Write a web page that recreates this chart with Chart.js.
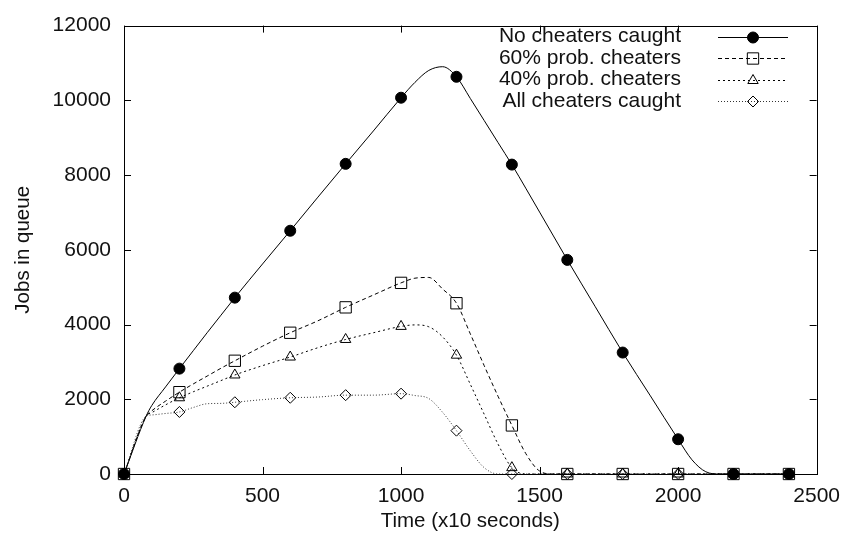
<!DOCTYPE html>
<html>
<head>
<meta charset="utf-8">
<script src="https://cdn.jsdelivr.net/npm/chart.js@4.4.0/dist/chart.umd.min.js"></script>
<style>
  html, body { margin: 0; padding: 0; background: #fff; }
  #wrap { width: 850px; height: 542px; }
</style>
</head>
<body>
<div id="wrap"><canvas id="queueChart" width="850" height="542"></canvas></div>
<script>
// Tiempo (x10 s) y trabajos en cola
const timeSteps = [0, 80, 100, 150, 200, 250, 300, 350, 400, 500, 600, 700, 800, 900, 1000, 1050, 1100, 1150, 1200, 1250, 1300, 1350, 1400, 1450, 1500, 1550, 1600, 1700, 1800, 1900, 2000, 2050, 2100, 2150, 2200, 2300, 2400];
const noCaught = [0, 1550, 1830, 2330, 2820, 3300, 3780, 4250, 4720, 5620, 6510, 7410, 8300, 9180, 10070, 10480, 10800, 10900, 10630, 10050, 9460, 8870, 8280, 7650, 7010, 6370, 5730, 4490, 3250, 2090, 930, 380, 60, 0, 0, 0, 0];
const prob60 = [0, 1550, 1690, 1950, 2190, 2410, 2620, 2830, 3030, 3420, 3780, 4100, 4460, 4790, 5115, 5240, 5260, 4950, 4570, 3750, 2900, 2080, 1300, 550, 80, 0, 0, 0, 0, 0, 0, 0, 0, 0, 0, 0, 0];
const prob40 = [0, 1550, 1640, 1850, 2040, 2200, 2350, 2500, 2650, 2900, 3130, 3380, 3600, 3780, 3950, 3990, 3940, 3670, 3180, 2400, 1600, 800, 170, 0, 0, 0, 0, 0, 0, 0, 0, 0, 0, 0, 0, 0, 0];
const allCaught = [0, 1550, 1580, 1620, 1660, 1780, 1880, 1890, 1920, 1990, 2040, 2060, 2110, 2110, 2150, 2100, 2020, 1650, 1160, 620, 170, 0, 0, 0, 0, 0, 0, 0, 0, 0, 0, 0, 0, 0, 0, 0, 0];
const seriesNames = ['No cheaters caught', '60% prob. cheaters', '40% prob. cheaters', 'All cheaters caught'];
const xTicks = [0, 500, 1000, 1500, 2000, 2500];
const yTicks = [0, 2000, 4000, 6000, 8000, 10000, 12000];

const FONT = '"Liberation Sans", Arial, Helvetica, sans-serif';
const markerEvery = 200;

const estilos = [
    { dash: [], color: '#000', pointStyle: 'circle', radius: 5.5, fill: '#000' },
    { dash: [4, 3], color: '#000', pointStyle: 'rect', radius: 8, fill: 'rgba(0,0,0,0)' },
    { dash: [2, 3], color: '#000', pointStyle: 'triangle', radius: 6, fill: 'rgba(0,0,0,0)' },
    { dash: [1, 2], color: '#333', pointStyle: 'rectRot', radius: 5.5, fill: 'rgba(0,0,0,0)' }
];

function puntos(valores) {
    return timeSteps.map((t, i) => ({ x: t, y: valores[i] }));
}

const allSeries = [noCaught, prob60, prob40, allCaught];

const datasets = allSeries.map((vals, i) => ({
    label: seriesNames[i],
    data: puntos(vals),
    borderColor: estilos[i].color,
    borderWidth: 1,
    borderDash: estilos[i].dash,
    cubicInterpolationMode: 'monotone',
    clip: false,
    pointStyle: estilos[i].pointStyle,
    pointRadius: ctx => (ctx.raw && ctx.raw.x % markerEvery === 0 ? estilos[i].radius : 0),
    pointHoverRadius: ctx => (ctx.raw && ctx.raw.x % markerEvery === 0 ? estilos[i].radius : 0),
    pointBackgroundColor: estilos[i].fill,
    pointBorderColor: '#000',
    pointBorderWidth: 1,
    fill: false
}));

// Caja, marcas hacia dentro y leyenda al estilo gnuplot
const marcoPlugin = {
    id: 'marco',
    afterDraw(chart) {
        const ctx = chart.ctx;
        const a = chart.chartArea;
        const xs = chart.scales.x;
        const ys = chart.scales.y;
        const tl = 7;
        ctx.save();
        ctx.strokeStyle = '#000';
        ctx.lineWidth = 1;
        ctx.setLineDash([]);
        ctx.strokeRect(Math.round(a.left) + 0.5, Math.round(a.top) + 0.5, Math.round(a.right - a.left), Math.round(a.bottom - a.top));
        ctx.beginPath();
        xTicks.forEach(v => {
            const px = Math.round(xs.getPixelForValue(v)) + 0.5;
            ctx.moveTo(px, a.bottom); ctx.lineTo(px, a.bottom - tl);
            ctx.moveTo(px, a.top); ctx.lineTo(px, a.top + tl);
        });
        yTicks.forEach(v => {
            const py = Math.round(ys.getPixelForValue(v)) + 0.5;
            ctx.moveTo(a.left, py); ctx.lineTo(a.left + tl, py);
            ctx.moveTo(a.right, py); ctx.lineTo(a.right - tl, py);
        });
        ctx.stroke();

        // leyenda
        const textRight = 681;
        const lineStart = 718;
        const lineEnd = 788;
        const markX = 753;
        const rowY = 36.5;
        const rowGap = 21.5;
        ctx.font = '21px ' + FONT;
        ctx.textAlign = 'right';
        ctx.textBaseline = 'middle';
        seriesNames.forEach((name, i) => {
            const y = rowY + i * rowGap;
            const e = estilos[i];
            ctx.fillStyle = '#111';
            ctx.fillText(name, textRight, y);
            ctx.beginPath();
            ctx.setLineDash(e.dash);
            ctx.strokeStyle = e.color;
            ctx.lineWidth = 1;
            ctx.moveTo(lineStart, Math.round(y) + 0.5);
            ctx.lineTo(lineEnd, Math.round(y) + 0.5);
            ctx.stroke();
            ctx.setLineDash([]);
            ctx.fillStyle = e.fill;
            ctx.strokeStyle = '#000';
            Chart.helpers.drawPoint(ctx, { pointStyle: e.pointStyle, radius: e.radius, rotation: 0, borderWidth: 1 }, markX, Math.round(y) + 0.5);
        });
        ctx.restore();
    }
};

const config = {
    type: 'line',
    data: { datasets: datasets },
    options: {
        responsive: false,
        animation: false,
        events: [],
        layout: { padding: { top: 19, right: 32, left: 0, bottom: 0 } },
        plugins: {
            legend: { display: false },
            tooltip: { enabled: false }
        },
        scales: {
            x: {
                type: 'linear',
                min: 0,
                max: 2500,
                afterBuildTicks: s => { s.ticks = xTicks.map(v => ({ value: v })); },
                afterFit: s => { s.height = 68; },
                grid: { display: false, drawTicks: false },
                border: { display: false },
                ticks: { padding: 10, color: '#111', font: { family: FONT, size: 21 }, maxRotation: 0, callback: v => String(v) },
                title: { display: true, text: 'Time (x10 seconds)', color: '#111', font: { family: FONT, size: 20.5 }, padding: { top: 0, bottom: 8 } }
            },
            y: {
                type: 'linear',
                min: 0,
                max: 12000,
                afterBuildTicks: s => { s.ticks = yTicks.map(v => ({ value: v })); },
                afterFit: s => { s.width = 124; },
                grid: { display: false, drawTicks: false },
                border: { display: false },
                ticks: { padding: 13, color: '#111', font: { family: FONT, size: 21 }, callback: v => String(v) },
                title: { display: true, text: 'Jobs in queue', color: '#111', font: { family: FONT, size: 20.5 }, padding: { top: 11, bottom: 0 } }
            }
        }
    },
    plugins: [marcoPlugin]
};

new Chart(document.getElementById('queueChart').getContext('2d'), config);
</script>
</body>
</html>
